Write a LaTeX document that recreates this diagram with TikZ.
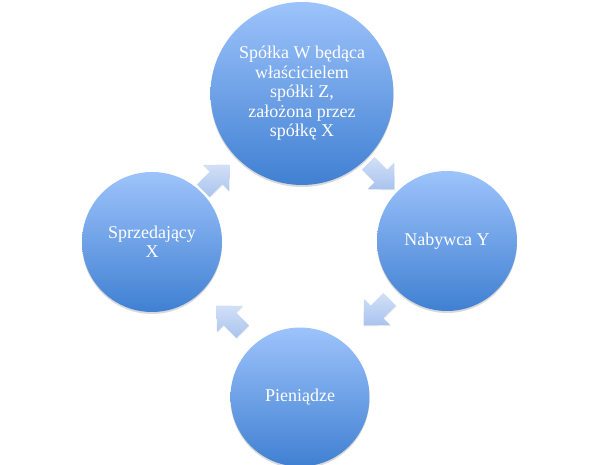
\documentclass[tikz,border=0pt]{standalone}
\usepackage{fontspec}
\setmainfont{Liberation Serif}
\usetikzlibrary{shadows}
\definecolor{cTop}{HTML}{9DC3FB}
\definecolor{cBot}{HTML}{4080D2}
\definecolor{aTop}{HTML}{D2E0F7}
\definecolor{aBot}{HTML}{A9C3EE}
\tikzset{
  bub/.style={circle, inner sep=0pt, top color=cTop, bottom color=cBot,
    text=white, align=center, font=\fontsize{18}{19.5}\selectfont,
    drop shadow={opacity=0.3, shadow xshift=0pt, shadow yshift=-2pt}},
  cyc/.style={top color=aTop, bottom color=aBot,
    drop shadow={opacity=0.15, shadow xshift=0.5pt, shadow yshift=-1pt}}
}
\newcommand\cycarrow[3]{%
  \path[cyc, shift={(#1,#2)}, rotate=#3]
    (-18,-9) -- (0,-9) -- (0,-18.5) -- (19,0) -- (0,18.5) -- (0,9) -- (-18,9) -- cycle;}
\begin{document}
\begin{tikzpicture}[x=1pt,y=1pt]
\useasboundingbox (0,0) rectangle (600,465);
\node[bub, minimum size=183pt] (top) at (302,371.5)
  {Spółka W będąca\\właścicielem\\spółki Z,\\założona przez\\spółkę X};
\node[bub, minimum size=140pt] (right) at (447,224) {Nabywca Y};
\node[bub, minimum size=139pt] (bottom) at (300,68) {Pieniądze};
\node[bub, minimum size=140pt] (left) at (152,223) {Sprzedający\\X};
\cycarrow{216}{287}{45}
\cycarrow{381}{289}{-45}
\cycarrow{377}{153}{-135}
\cycarrow{230}{146}{135}
\end{tikzpicture}
\end{document}
